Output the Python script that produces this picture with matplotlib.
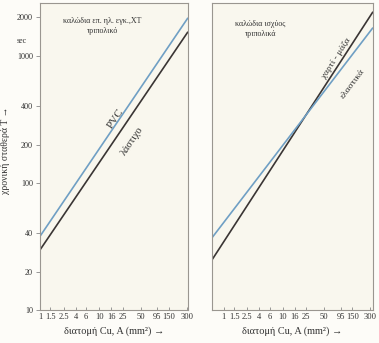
import matplotlib
matplotlib.use("Agg")
import matplotlib.pyplot as plt
import numpy as np

plt.rcParams['font.family'] = ['Liberation Serif', 'DejaVu Serif']

# ---- data ----
x_ticks = [1, 1.5, 2.5, 4, 6, 10, 16, 25, 50, 95, 150, 300]
x_tick_labels = ["1", "1.5", "2.5", "4", "6", "10", "16", "25", "50", "95", "150", "300"]
y_ticks = [10, 20, 40, 100, 200, 400, 1000, 2000]
y_tick_labels = ["10", "20", "40", "100", "200", "400", "1000", "2000"]

# left panel: cables for electrical installations
A_left = [1, 316]
T_pvc = [38, 1990]
T_rubber = [29.7, 1545]

# right panel: power cables
A_right = [0.63, 337]
T_paper = [24.8, 2220]
T_elast = [37, 1665]

blue = "#6f9fc4"
dark = "#3a3534"
bg = "#f9f7ee"

fig = plt.figure(figsize=(3.79, 3.43), dpi=100)
fig.patch.set_facecolor("#fdfcf8")

axL = fig.add_axes([40/379, 33/343, 148/379, 307/343])
axR = fig.add_axes([212/379, 33/343, 161/379, 307/343])

for ax in (axL, axR):
    ax.set_facecolor(bg)
    ax.set_xscale("log")
    ax.set_yscale("log")
    ax.set_ylim(10, 2600)
    for s in ax.spines.values():
        s.set_color("#9a9690")
        s.set_linewidth(0.8)
    ax.set_xticks(x_ticks)
    ax.set_xticklabels(x_tick_labels, fontsize=6.1, color="#333")
    ax.xaxis.set_minor_locator(matplotlib.ticker.NullLocator())
    ax.yaxis.set_minor_locator(matplotlib.ticker.NullLocator())
    ax.tick_params(axis="x", direction="in", length=2, width=0.6, color="#888", pad=2)
    ax.set_xlabel("διατομή Cu, A (mm²) →", fontsize=7.4, color="#333", labelpad=4)

axL.set_xlim(1, 316)
axR.set_xlim(0.63, 337)

axL.set_yticks(y_ticks)
axL.set_yticklabels(y_tick_labels, fontsize=5.9, color="#333")
axL.tick_params(axis="y", direction="out", length=3, width=0.6, color="#888", pad=2)
axL.set_ylabel("χρονική σταθερά T →", fontsize=7, color="#333")
axL.yaxis.set_label_coords(-0.205, 0.52)
axL.text(-0.09, 1300, "sec", transform=axL.get_yaxis_transform(), fontsize=5.8,
         ha="right", va="center", color="#333")

axR.set_yticks(y_ticks)
axR.set_yticklabels([])
axR.tick_params(axis="y", direction="in", length=0, width=0.6, color="#888")

# lines
axL.plot(A_left, T_pvc, color=blue, lw=1.2, solid_capstyle="butt")
axL.plot(A_left, T_rubber, color=dark, lw=1.2, solid_capstyle="butt")
axR.plot(A_right, T_paper, color=dark, lw=1.2, solid_capstyle="butt")
axR.plot(A_right, T_elast, color=blue, lw=1.2, solid_capstyle="butt")

# titles
axL.text(0.42, 0.925, "καλώδια επ. ηλ. εγκ.,XT\nτριπολικό", transform=axL.transAxes,
         fontsize=5.8, ha="center", va="center", color="#333", linespacing=1.3)
axR.text(0.30, 0.915, "καλώδια ισχύος\nτριπολικά", transform=axR.transAxes,
         fontsize=5.8, ha="center", va="center", color="#333", linespacing=1.3)

# line labels
axL.text(19, 320, "PVC", fontsize=8, rotation=56, ha="center", va="center", color="#333")
axL.text(36, 215, "λάστιχο", fontsize=7.5, rotation=56, ha="center", va="center", color="#333")
axR.text(80, 950, "χαρτί - μάζα", fontsize=6.8, rotation=57, ha="center", va="center", color="#333")
axR.text(150, 600, "ελαστικά", fontsize=6.8, rotation=53, ha="center", va="center", color="#333")

fig.savefig("out.png", dpi=100, facecolor=fig.get_facecolor())
